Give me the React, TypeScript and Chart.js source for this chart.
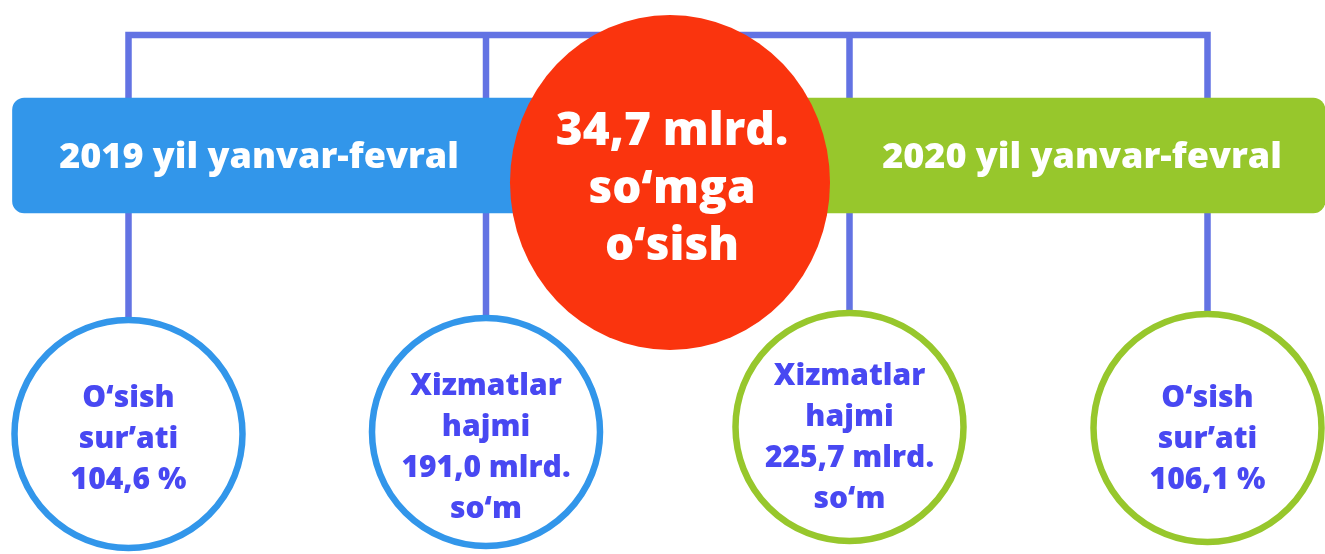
import React, { useEffect, useRef } from "react";
import { Chart, registerables } from "chart.js";

Chart.register(...registerables);

// ---------------- data ----------------
const periods = ["2019 yil yanvar-fevral", "2020 yil yanvar-fevral"];
const serviceVolume = [191.0, 225.7]; // mlrd. so‘m
const growthRate = [104.6, 106.1]; // %
const increase = 34.7; // mlrd. so‘m

// bottom row, left to right: which indicator and which period
const bottomKinds = ["rate", "volume", "volume", "rate"];
const bottomPeriod = [0, 0, 1, 1];

// ---------------- layout (canvas units, 1325 x 554) ----------------
const W = 1325;
const H = 554;
const slotX = [128.5, 486, 849.5, 1207.5];
const slotY = [434, 432, 427, 428];
const circleR = 114;
const bracketY = 35;
const bannerY = 155.5;
const bannerThickness = 115;
const bannerSpan = [
  [12.5, 600],
  [760, 1325],
];
const bannerTextX = [259, 1082];
const bannerBaseline = 168;
const bottomTextBaseline = [407, 395, 385, 407];
const bottomLineGap = 41;
const centre = { x: 670, y: 182.5, rx: 160, ry: 167.5 };
const centreBaselines = [145, 203, 260];
const centreTextX = 672;

// ---------------- styles ----------------
const FONT = "'Open Sans', 'Liberation Sans', sans-serif";
const LINE = "#6373E3";
const BLUE = "#3296EA";
const GREEN = "#97C72C";
const RED = "#FA340E";
const TEXT_BLUE = "#4848F2";
const periodColors = [BLUE, GREEN];

const fmt = (v: number) => v.toFixed(1).replace(".", ",");

const bottomLines = (i: number): string[] => {
  const p = bottomPeriod[i];
  if (bottomKinds[i] === "rate") {
    return ["O‘sish", "sur’ati", `${fmt(growthRate[p])} %`];
  }
  return ["Xizmatlar", "hajmi", `${fmt(serviceVolume[p])} mlrd.`, "so‘m"];
};
const centreLines = [`${fmt(increase)} mlrd.`, "so‘mga", "o‘sish"];

const infoPlugin = {
  id: "infoText",
  afterDatasetsDraw(chart: any) {
    const { ctx } = chart;
    const xs = chart.scales.x;
    const ys = chart.scales.y;
    const px = (v: number) => xs.getPixelForValue(v);
    const py = (v: number) => ys.getPixelForValue(v);
    ctx.save();

    // central growth ellipse
    const cx = px(centre.x);
    const cy = py(centre.y);
    const rx = Math.abs(px(centre.x + centre.rx) - cx);
    const ry = Math.abs(py(centre.y + centre.ry) - cy);
    ctx.fillStyle = RED;
    ctx.beginPath();
    ctx.ellipse(cx, cy, rx, ry, 0, 0, Math.PI * 2);
    ctx.fill();

    ctx.textAlign = "center";
    ctx.textBaseline = "alphabetic";

    // banner texts
    ctx.fillStyle = "#ffffff";
    ctx.font = `800 36px ${FONT}`;
    periods.forEach((p, i) => {
      ctx.fillText(p, px(bannerTextX[i]), py(bannerBaseline));
    });

    // centre text
    ctx.font = `800 46px ${FONT}`;
    centreLines.forEach((t, i) => {
      ctx.fillText(t, px(centreTextX), py(centreBaselines[i]));
    });

    // bottom circle texts
    ctx.fillStyle = TEXT_BLUE;
    ctx.font = `800 30px ${FONT}`;
    slotX.forEach((sx, i) => {
      bottomLines(i).forEach((t, k) => {
        ctx.fillText(t, px(sx), py(bottomTextBaseline[i] + k * bottomLineGap));
      });
    });

    ctx.restore();
  },
};

export default function App() {
  const canvasRef = useRef<HTMLCanvasElement | null>(null);

  useEffect(() => {
    if (!canvasRef.current) return;
    const first = slotX[0];
    const last = slotX[slotX.length - 1];
    const circleTop = (i: number) => slotY[i] - circleR;

    const datasets: any[] = [];

    // outer bracket
    datasets.push({
      type: "line",
      order: 10,
      data: [
        { x: first, y: circleTop(0) },
        { x: first, y: bracketY },
        { x: last, y: bracketY },
        { x: last, y: circleTop(slotX.length - 1) },
      ],
      borderColor: LINE,
      borderWidth: 6.5,
      borderJoinStyle: "miter",
      borderCapStyle: "butt",
      pointRadius: 0,
      fill: false,
      tension: 0,
      clip: false,
    });
    // inner connectors
    slotX.slice(1, -1).forEach((sx, j) => {
      datasets.push({
        type: "line",
        order: 9,
        data: [
          { x: sx, y: bracketY },
          { x: sx, y: circleTop(j + 1) },
        ],
        borderColor: LINE,
        borderWidth: 6.5,
        borderCapStyle: "butt",
        pointRadius: 0,
        fill: false,
        tension: 0,
        clip: false,
      });
    });
    // period banners
    datasets.push({
      type: "bar",
      order: 5,
      indexAxis: "y",
      data: periods.map((_, i) => ({ y: bannerY, x: bannerSpan[i] })),
      backgroundColor: periodColors,
      borderWidth: 0,
      borderRadius: 12,
      borderSkipped: false,
      barThickness: bannerThickness,
      grouped: false,
      clip: false,
    });
    // indicator circles
    datasets.push({
      type: "bubble",
      order: 1,
      data: slotX.map((sx, i) => ({ x: sx, y: slotY[i], r: circleR })),
      backgroundColor: "#ffffff",
      borderColor: bottomPeriod.map((p) => periodColors[p]),
      borderWidth: 6.5,
      clip: false,
    });

    const chart = new Chart(canvasRef.current, {
      type: "scatter",
      data: { datasets },
      options: {
        responsive: false,
        animation: false,
        events: [],
        layout: { padding: 0, autoPadding: false },
        plugins: { legend: { display: false }, tooltip: { enabled: false } },
        scales: {
          x: { type: "linear", min: 0, max: W, display: false, offset: false },
          y: { type: "linear", min: 0, max: H, reverse: true, display: false, offset: false },
        },
      },
      plugins: [infoPlugin],
    } as any);

    return () => chart.destroy();
  }, []);

  return (
    <div style={{ position: "fixed", left: 0, top: 0, width: W, height: H, background: "#ffffff" }}>
      <canvas ref={canvasRef} width={W} height={H} style={{ display: "block" }} />
    </div>
  );
}
